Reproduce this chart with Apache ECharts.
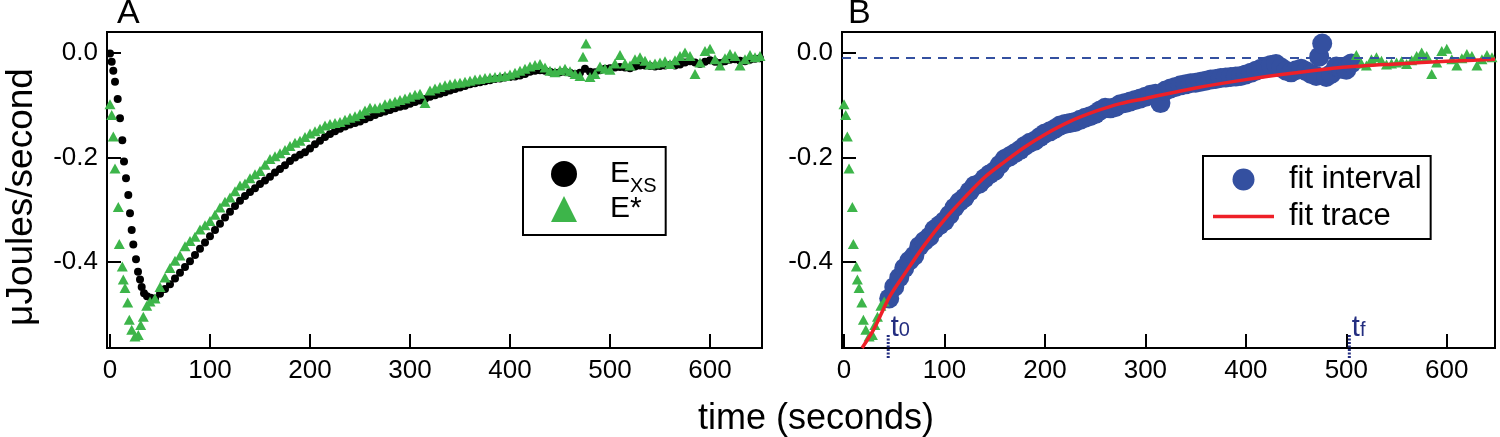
<!DOCTYPE html>
<html><head><meta charset="utf-8">
<script src="https://cdn.jsdelivr.net/npm/echarts@6/dist/echarts.min.js"></script>
<style>html,body{margin:0;padding:0;background:#fff}#c{width:1500px;height:437px}</style>
</head><body><div id="c"></div>
<script>
const FONT = '"Liberation Sans", Arial, Helvetica, sans-serif';

// tick labels
const xTicks = [0, 100, 200, 300, 400, 500, 600];
const yTicks = [0, -0.2, -0.4];

// E_XS (black dots)
const xsTime = [0, 1.7, 3.3, 5, 7.7, 10, 12.3, 14, 16, 18.3, 20, 21.7, 23.3, 26, 28, 30, 31.7, 34, 37, 40.7,
  45, 50, 55, 60, 65, 70, 75, 80, 85, 90, 95, 100, 105, 110, 115, 120, 125, 130, 135, 140, 145, 150, 155, 160,
  165, 170, 175, 180, 185, 190, 195, 200, 205, 210, 215, 220, 225, 230, 235, 240, 245, 250, 255, 260, 265, 270,
  275, 280, 285, 290, 295, 300, 305, 310, 315, 320, 325, 330, 335, 340, 345, 350, 355, 360, 365, 370, 375, 380,
  385, 390, 395, 400, 405, 410, 415, 420, 425, 430, 435, 440, 445, 450, 455, 460, 465, 470, 475, 480, 485, 490,
  495, 500, 505, 510, 515, 520, 525, 530, 535, 540, 545, 550, 555, 560, 565, 570, 575, 580, 585, 590, 595, 600,
  605, 610, 615, 620, 625, 630, 635, 640, 645, 650];
const xsValue = [-0.001, -0.017, -0.034, -0.055, -0.088, -0.125, -0.167, -0.208, -0.240, -0.272, -0.307, -0.339, -0.367, -0.395, -0.419, -0.434, -0.448, -0.460, -0.466, -0.469,
  -0.470, -0.461, -0.452, -0.443, -0.432, -0.421, -0.410, -0.399, -0.387, -0.375, -0.363, -0.351, -0.339, -0.327, -0.315, -0.304, -0.293, -0.283, -0.274, -0.266, -0.259, -0.251, -0.244, -0.237,
  -0.229, -0.222, -0.215, -0.207, -0.200, -0.195, -0.190, -0.183, -0.175, -0.168, -0.161, -0.155, -0.150, -0.145, -0.141, -0.137, -0.134, -0.131, -0.127, -0.123, -0.119, -0.115,
  -0.112, -0.109, -0.106, -0.103, -0.101, -0.097, -0.094, -0.091, -0.088, -0.084, -0.081, -0.078, -0.075, -0.072, -0.069, -0.066, -0.063, -0.060, -0.058, -0.056, -0.054, -0.052,
  -0.050, -0.049, -0.047, -0.046, -0.045, -0.043, -0.040, -0.036, -0.034, -0.033, -0.034, -0.036, -0.038, -0.037, -0.036, -0.038, -0.040, -0.038, -0.030, -0.036, -0.037, -0.033,
  -0.030, -0.029, -0.028, -0.027, -0.028, -0.029, -0.026, -0.024, -0.024, -0.025, -0.026, -0.025, -0.024, -0.023, -0.024, -0.022, -0.018, -0.016, -0.018, -0.021, -0.017, -0.014,
  -0.017, -0.019, -0.016, -0.013, -0.012, -0.015, -0.016, -0.013, -0.011, -0.010];

// E* (green triangles)
const starTime = [0, 1.7, 3.3, 5, 8.3, 9.3, 12.3, 13.3, 15, 17.7, 19.3, 21.7, 25, 28.3, 30.7, 33.3, 36.7, 40,
  45, 50, 55, 60, 65, 70, 75, 80, 85, 90, 95, 100, 105, 110, 115, 120, 125, 130, 135, 140, 145, 150, 155, 160,
  165, 170, 175, 180, 185, 190, 195, 200, 205, 210, 215, 220, 225, 230, 235, 240, 245, 250, 255, 260, 265, 270,
  275, 280, 285, 290, 295, 300, 305, 310, 315, 320, 325, 330, 335, 340, 345, 350, 355, 360, 365, 370, 375, 380,
  385, 390, 395, 400, 405, 410, 415, 420, 425, 430, 435, 440, 445, 450, 455, 460, 465, 470, 473, 476, 480, 485, 490,
  495, 500, 505, 510, 515, 520, 525, 530, 535, 540, 545, 550, 555, 560, 565, 570, 575, 580, 585, 590, 595, 600,
  605, 610, 615, 620, 625, 630, 635, 640, 645, 650];
const starValue = [-0.098, -0.119, -0.160, -0.221, -0.295, -0.366, -0.409, -0.434, -0.450, -0.478, -0.511, -0.530, -0.543, -0.540, -0.521, -0.505, -0.484, -0.476,
  -0.470, -0.448, -0.430, -0.412, -0.398, -0.388, -0.370, -0.360, -0.352, -0.338, -0.330, -0.322, -0.310, -0.296, -0.285, -0.277, -0.265, -0.254, -0.250, -0.240, -0.232, -0.226, -0.214, -0.203,
  -0.198, -0.192, -0.186, -0.178, -0.172, -0.168, -0.161, -0.154, -0.150, -0.145, -0.139, -0.136, -0.134, -0.132, -0.128, -0.124, -0.121, -0.117, -0.110, -0.105, -0.106, -0.104,
  -0.098, -0.096, -0.093, -0.090, -0.087, -0.084, -0.080, -0.078, -0.096, -0.072, -0.068, -0.065, -0.062, -0.060, -0.058, -0.057, -0.055, -0.053, -0.051, -0.050, -0.048, -0.047,
  -0.046, -0.045, -0.044, -0.041, -0.038, -0.034, -0.030, -0.026, -0.023, -0.021, -0.028, -0.034, -0.037, -0.033, -0.030, -0.035, -0.040, -0.044, -0.007, 0.018, -0.046, -0.040, -0.026,
  -0.030, -0.032, -0.020, -0.004, -0.020, -0.024, -0.012, -0.008, -0.015, -0.022, -0.020, -0.018, -0.016, -0.021, -0.014, -0.006, 0.001, -0.006, -0.040, -0.018, 0.004, 0.008,
  -0.012, -0.024, -0.010, -0.002, -0.006, -0.024, -0.012, -0.004, -0.008, -0.006];

// fit trace (red)
const fitTime = [18, 30, 45, 60, 80, 100, 120, 140, 160, 180, 200, 225, 250, 275, 300, 350, 400, 450, 500, 550, 600, 648];
const fitValue = [-0.565, -0.528, -0.468, -0.424, -0.368, -0.319, -0.277, -0.238, -0.208, -0.180, -0.156, -0.131, -0.112, -0.097, -0.087, -0.067, -0.051, -0.038, -0.027, -0.021, -0.016, -0.012];

// fit interval bounds and baseline
const fitStart = 45, fitEnd = 505;
const markerTime = [44, 503];
const markerSub = ['0', 'f'];
const markerTop = -0.540, markerBottom = -0.584;
const baselineValue = -0.007;

const zip = (a, b) => a.map((t, i) => [t, b[i]]);
const starData = zip(starTime, starValue);
const inFit = p => p[0] >= fitStart && p[0] <= fitEnd;

const GREEN = '#3db54a', BLUE = '#3450a0', RED = '#ee2028', DARK = '#232d80';

function xAxisCfg(idx, min, max) {
  return {
    gridIndex: idx, type: 'value', min, max,
    axisLine: { show: true, onZero: false, lineStyle: { color: '#000', width: 2 } },
    axisTick: { show: true, inside: true, length: 14, customValues: xTicks, lineStyle: { color: '#000', width: 2 } },
    axisLabel: { show: true, customValues: xTicks, margin: 10, fontSize: 26, fontFamily: FONT, color: '#000' },
    splitLine: { show: false }
  };
}
function yAxisCfg(idx, withName) {
  const c = {
    gridIndex: idx, type: 'value', min: -0.565, max: 0.0402,
    axisLine: { show: true, onZero: false, lineStyle: { color: '#000', width: 2 } },
    axisTick: { show: true, inside: true, length: 14, customValues: yTicks, lineStyle: { color: '#000', width: 2 } },
    axisLabel: { show: true, customValues: yTicks, margin: 9, fontSize: 26, fontFamily: FONT, color: '#000',
      formatter: v => Number(v).toFixed(1) },
    splitLine: { show: false }
  };
  if (withName) {
    c.name = 'μJoules/second';
    c.nameLocation = 'middle';
    c.nameRotate = 90;
    c.nameGap = 67;
    c.nameTextStyle = { fontSize: 37, fontFamily: FONT, color: '#000', padding: [0, 14, 0, 0] };
  }
  return c;
}

const series = [
  { name: 'Exs', type: 'scatter', xAxisIndex: 0, yAxisIndex: 0, data: zip(xsTime, xsValue),
    symbol: 'circle', symbolSize: 8, itemStyle: { color: '#000', opacity: 1 }, z: 2 },
  { name: 'E*', type: 'scatter', xAxisIndex: 0, yAxisIndex: 0, data: starData,
    symbol: 'triangle', symbolSize: [11, 10], itemStyle: { color: GREEN, opacity: 1 }, z: 3 },
  { name: 'fit interval', type: 'scatter', xAxisIndex: 1, yAxisIndex: 1, data: starData.filter(inFit),
    symbol: 'circle', symbolSize: 20, itemStyle: { color: BLUE, opacity: 1 }, z: 2 },
  { name: 'E* outside', type: 'scatter', xAxisIndex: 1, yAxisIndex: 1, data: starData.filter(p => !inFit(p)),
    symbol: 'triangle', symbolSize: [11, 10], itemStyle: { color: GREEN, opacity: 1 }, z: 3 },
  { name: 'fit trace', type: 'line', xAxisIndex: 1, yAxisIndex: 1, data: zip(fitTime, fitValue),
    smooth: 0.3, symbol: 'none', lineStyle: { color: RED, width: 3.5 }, itemStyle: { color: RED }, z: 4,
    markLine: { silent: true, symbol: 'none', label: { show: false },
      lineStyle: { color: BLUE, width: 2, type: [9, 7] }, data: [{ yAxis: baselineValue }] } }
];
markerTime.forEach((t, i) => {
  series.push({ name: 'marker' + i, type: 'line', xAxisIndex: 1, yAxisIndex: 1, clip: false,
    data: [[t, markerTop], [t, markerBottom]], symbol: 'none',
    lineStyle: { color: DARK, width: 3, type: [2, 1.5] }, z: 5 });
});
series.push({ name: 'marker labels', type: 'scatter', xAxisIndex: 1, yAxisIndex: 1,
  data: markerTime.map(t => [t, markerTop]), symbol: 'circle', symbolSize: 1,
  itemStyle: { color: 'rgba(0,0,0,0)' }, z: 6, silent: true,
  label: { show: true, position: 'right', distance: 2, offset: [0, -7], opacity: 1,
    formatter: p => '{t|t}{s|' + markerSub[p.dataIndex] + '}',
    rich: { t: { fontSize: 29, fontFamily: FONT, color: DARK },
            s: { fontSize: 20, fontFamily: FONT, color: DARK, padding: [6, 0, 0, 0] } } } });

const option = {
  animation: false,
  backgroundColor: '#fff',
  title: [
    { text: 'A', left: 117, top: -3, padding: 0, textStyle: { fontSize: 34, fontWeight: 'normal', fontFamily: FONT, color: '#000' } },
    { text: 'B', left: 848, top: -3, padding: 0, textStyle: { fontSize: 34, fontWeight: 'normal', fontFamily: FONT, color: '#000' } },
    { text: 'time (seconds)', left: 698, top: 401, padding: 0, textStyle: { fontSize: 36, fontWeight: 'normal', fontFamily: FONT, color: '#000' } }
  ],
  grid: [
    { left: 107, top: 32, width: 655, height: 316, show: true, borderColor: '#000', borderWidth: 2, backgroundColor: 'transparent' },
    { left: 842, top: 32, width: 653, height: 316, show: true, borderColor: '#000', borderWidth: 2, backgroundColor: 'transparent' }
  ],
  xAxis: [xAxisCfg(0, -3, 652), xAxisCfg(1, -2, 648)],
  yAxis: [yAxisCfg(0, true), yAxisCfg(1, false)],
  legend: [
    { data: ['Exs', 'E*'], orient: 'vertical', left: 523, top: 147, selectedMode: false,
      itemWidth: 26, itemHeight: 26, itemGap: -2, padding: [12, 9, 11, 28],
      backgroundColor: '#fff', borderColor: '#000', borderWidth: 2,
      formatter: n => n === 'Exs' ? '{e|E}{s|XS}' : n,
      textStyle: { fontSize: 30, fontFamily: FONT, color: '#000', padding: [0, 0, 0, 28],
        rich: { e: { fontSize: 30, fontFamily: FONT, color: '#000' },
                s: { fontSize: 20, fontFamily: FONT, color: '#000', padding: [24, 0, 0, 0] } } } },
    { data: ['fit interval', { name: 'fit trace', icon: 'path://M0,0L61,0L61,3.5L0,3.5Z' }],
      orient: 'vertical', left: 1203, top: 156, selectedMode: false, symbolKeepAspect: true,
      itemWidth: 61, itemHeight: 22, itemGap: 6, padding: [8, 9, 7, 10],
      backgroundColor: '#fff', borderColor: '#000', borderWidth: 2,
      textStyle: { fontSize: 31, fontFamily: FONT, color: '#000', padding: [0, 0, 0, 10] } }
  ],
  series
};
const chart = echarts.init(document.getElementById('c'), null, { renderer: 'canvas' });
chart.setOption(option);
</script></body></html>
